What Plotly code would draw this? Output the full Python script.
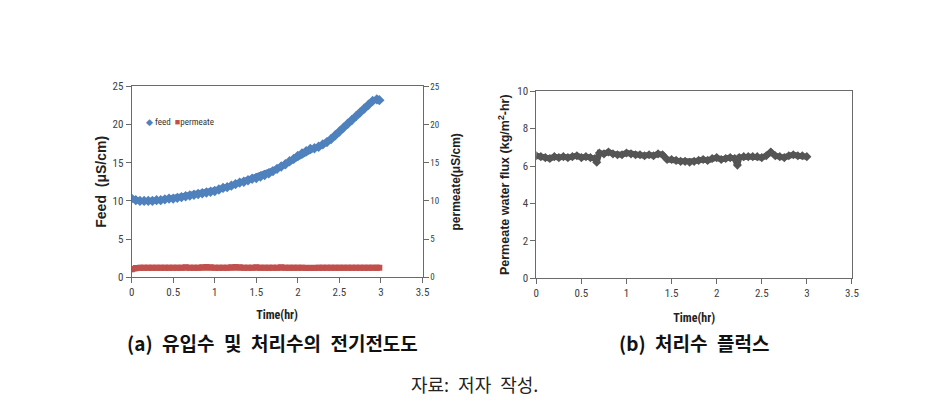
import plotly.graph_objects as go

# ---------------- data ----------------
feed_time = [0.0, 0.05, 0.1, 0.15, 0.2, 0.25, 0.3, 0.35, 0.4, 0.45, 0.5, 0.55, 0.6, 0.65, 0.7,
             0.75, 0.8, 0.85, 0.9, 0.95, 1.0, 1.05, 1.1, 1.15, 1.2, 1.25, 1.3, 1.35, 1.4, 1.45,
             1.5, 1.55, 1.6, 1.65, 1.7, 1.75, 1.8, 1.85, 1.9, 1.95, 2.0, 2.05, 2.1, 2.15, 2.2,
             2.25, 2.3, 2.35, 2.4, 2.45, 2.5, 2.55, 2.6, 2.65, 2.7, 2.75, 2.8, 2.85, 2.9, 2.95, 2.98]
feed_values = [10.3, 10.1, 10.0, 10.0, 10.0, 10.0, 10.1, 10.1, 10.2, 10.3, 10.3, 10.4, 10.5, 10.6, 10.7,
               10.8, 10.9, 11.0, 11.1, 11.2, 11.3, 11.5, 11.7, 11.8, 12.0, 12.2, 12.4, 12.5, 12.7, 12.9,
               13.0, 13.2, 13.4, 13.6, 13.9, 14.2, 14.5, 14.8, 15.2, 15.5, 15.9, 16.2, 16.5, 16.8, 16.9,
               17.1, 17.4, 17.7, 18.1, 18.6, 19.1, 19.6, 20.1, 20.6, 21.1, 21.6, 22.1, 22.6, 23.1, 23.3, 23.2]

perm_time = feed_time
perm_values = [1.05, 1.2, 1.25, 1.25, 1.25, 1.25, 1.25, 1.25, 1.25, 1.25, 1.25, 1.25, 1.25, 1.3, 1.25,
               1.25, 1.25, 1.3, 1.35, 1.3, 1.25, 1.25, 1.25, 1.25, 1.3, 1.35, 1.3, 1.25, 1.25, 1.25,
               1.3, 1.25, 1.25, 1.25, 1.25, 1.25, 1.3, 1.25, 1.25, 1.25, 1.25, 1.25, 1.2, 1.2, 1.2,
               1.25, 1.25, 1.25, 1.25, 1.25, 1.25, 1.25, 1.25, 1.25, 1.25, 1.25, 1.25, 1.25, 1.25, 1.25, 1.25]

flux_time = [0.0, 0.05, 0.1, 0.15, 0.2, 0.25, 0.3, 0.35, 0.4, 0.45, 0.5, 0.55, 0.6, 0.65, 0.67,
             0.7, 0.75, 0.8, 0.85, 0.9, 0.95, 1.0, 1.05, 1.1, 1.15, 1.2, 1.25, 1.3, 1.35, 1.4,
             1.45, 1.5, 1.55, 1.6, 1.65, 1.7, 1.75, 1.8, 1.85, 1.9, 1.95, 2.0, 2.05, 2.1, 2.15,
             2.2, 2.23, 2.25, 2.3, 2.35, 2.4, 2.45, 2.5, 2.55, 2.6, 2.65, 2.7, 2.75, 2.8, 2.85,
             2.9, 2.95, 3.0]
flux_values = [6.55, 6.5, 6.45, 6.4, 6.5, 6.45, 6.5, 6.45, 6.5, 6.55, 6.45, 6.5, 6.45, 6.4, 6.2,
               6.7, 6.65, 6.75, 6.65, 6.6, 6.6, 6.7, 6.65, 6.6, 6.6, 6.55, 6.6, 6.55, 6.65, 6.6,
               6.35, 6.35, 6.3, 6.25, 6.25, 6.2, 6.25, 6.3, 6.35, 6.3, 6.4, 6.45, 6.35, 6.4, 6.45,
               6.4, 6.05, 6.45, 6.5, 6.5, 6.5, 6.5, 6.45, 6.55, 6.75, 6.55, 6.5, 6.45, 6.55, 6.6,
               6.55, 6.55, 6.5]

x_ticks = [0, 0.5, 1, 1.5, 2, 2.5, 3, 3.5]
x_ticktext = ["0", "0.5", "1", "1.5", "2", "2.5", "3", "3.5"]

# ---------------- styles ----------------
NARROW = "Liberation Sans Narrow, Roboto Condensed, Liberation Sans, Arial"
TICK_FONT = dict(family=NARROW, size=11, color="#404040")
AX_LINE = "#6a6a6a"
FEED_C = "#4F81BD"
PERM_C = "#C0504D"
FLUX_C = "#555555"

fig = go.Figure()
fig.add_trace(go.Scatter(x=feed_time, y=feed_values, mode="lines+markers", name="feed",
                         line=dict(color=FEED_C, width=6),
                         marker=dict(symbol="diamond", size=8, color=FEED_C),
                         xaxis="x", yaxis="y"))
fig.add_trace(go.Scatter(x=perm_time, y=perm_values, mode="lines+markers", name="permeate",
                         line=dict(color=PERM_C, width=6),
                         marker=dict(symbol="square", size=6, color=PERM_C),
                         xaxis="x", yaxis="y2"))
fig.add_trace(go.Scatter(x=flux_time, y=flux_values, mode="lines+markers", name="flux",
                         line=dict(color=FLUX_C, width=6),
                         marker=dict(symbol="diamond", size=7, color=FLUX_C),
                         xaxis="x2", yaxis="y3"))

common_x = dict(range=[0, 3.5], tickvals=x_ticks, ticktext=x_ticktext, showgrid=False,
                zeroline=False, showline=True, linecolor=AX_LINE, linewidth=1, mirror=True,
                ticks="outside", ticklen=5, tickcolor=AX_LINE, tickfont=TICK_FONT)

fig.update_layout(
    width=948, height=415,
    margin=dict(l=0, r=0, t=0, b=0),
    paper_bgcolor="white", plot_bgcolor="white",
    showlegend=False,
    xaxis=dict(domain=[130/948, 424/948], anchor="y", **common_x,
               title=dict(text="<b>Time(hr)</b>", standoff=12,
                          font=dict(family=NARROW, size=12, color="#222"))),
    yaxis=dict(domain=[1-280/415, 1-83/415], range=[0, 25], tickvals=[0, 5, 10, 15, 20, 25],
               showgrid=False, zeroline=False, showline=True, linecolor=AX_LINE, mirror=False,
               ticks="outside", ticklen=5, tickcolor=AX_LINE, tickfont=TICK_FONT,
               title=dict(text="<b>Feed  (μS/cm)</b>", standoff=2,
                          font=dict(family="Liberation Sans, Arial", size=14, color="#222"))),
    yaxis2=dict(overlaying="y", side="right", anchor="x", range=[0, 25],
                tickvals=[0, 5, 10, 15, 20, 25], showgrid=False, zeroline=False,
                showline=True, linecolor=AX_LINE, ticks="outside", ticklen=5, tickcolor=AX_LINE,
                tickfont=dict(family=NARROW, size=9, color="#404040"),
                title=dict(text="<b>permeate(μS/cm)</b>", standoff=12,
                           font=dict(family="Liberation Sans, Arial", size=12, color="#222"))),
    xaxis2=dict(domain=[539/948, 858/948], anchor="y3", **common_x,
                title=dict(text="<b>Time(hr)</b>", standoff=14,
                           font=dict(family=NARROW, size=12, color="#222"))),
    yaxis3=dict(domain=[1-281/415, 1-88/415], anchor="x2", range=[0, 10],
                tickvals=[0, 2, 4, 6, 8, 10], showgrid=False, zeroline=False,
                showline=True, linecolor=AX_LINE, mirror=True, ticks="outside", ticklen=5,
                tickcolor=AX_LINE, tickfont=TICK_FONT,
                title=dict(text="<b>Permeate water flux (kg/m<sup>2</sup>-hr)</b>", standoff=4,
                           font=dict(family="Liberation Sans, Arial", size=12.5, color="#222"))),
)

# legend (compact, as in the reference)
fig.add_annotation(text=f'<span style="color:{FEED_C}">◆</span> feed  '
                        f'<span style="color:{PERM_C}">■</span>permeate',
                   x=143/948, y=1-120/415, xref="paper", yref="paper", showarrow=False,
                   xanchor="left", yanchor="middle",
                   font=dict(family=NARROW, size=9, color="#333"))

# captions
SP = "\u2002"
fig.add_annotation(text=f"<b>(a){SP}유입수{SP}및{SP}처리수의{SP}전기전도도</b>", x=272/948, y=1-347/415,
                   xref="paper", yref="paper", showarrow=False, xanchor="center", yanchor="middle",
                   font=dict(family="Noto Sans CJK KR", size=19, color="#111"))
fig.add_annotation(text=f"<b>(b){SP}처리수{SP}플럭스</b>", x=698/948, y=1-347/415,
                   xref="paper", yref="paper", showarrow=False, xanchor="center", yanchor="middle",
                   font=dict(family="Noto Sans CJK KR", size=19, color="#111"))
fig.add_annotation(text=f"자료:{SP}저자{SP}작성.", x=477/948, y=1-390/415,
                   xref="paper", yref="paper", showarrow=False, xanchor="center", yanchor="middle",
                   font=dict(family="Noto Sans CJK KR", size=18, color="#222"))

fig.write_html("out.html")
